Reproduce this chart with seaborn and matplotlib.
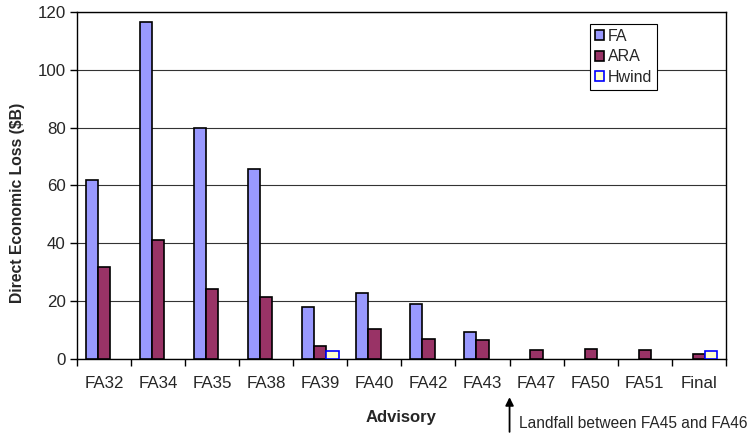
import pandas as pd
import numpy as np
import matplotlib
matplotlib.use('Agg')
import matplotlib.pyplot as plt
import seaborn as sns

# ── data ────────────────────────────────────────────────
advisories = ['FA32', 'FA34', 'FA35', 'FA38', 'FA39', 'FA40',
              'FA42', 'FA43', 'FA47', 'FA50', 'FA51', 'Final']
fa_loss    = [62.0, 116.5, 79.8, 65.7, 18.1, 22.7, 18.9, 9.3,
              np.nan, np.nan, np.nan, np.nan]
ara_loss   = [31.7, 41.1, 24.3, 21.3, 4.5, 10.3, 6.8, 6.4,
              3.1, 3.5, 3.1, 1.7]
hwind_loss = [np.nan, np.nan, np.nan, np.nan, 2.7, np.nan, np.nan, np.nan,
              np.nan, np.nan, np.nan, 2.7]
series     = ['FA', 'ARA', 'Hwind']

df = pd.concat([
    pd.DataFrame({'Advisory': advisories, 'series': name, 'loss': vals})
    for name, vals in zip(series, [fa_loss, ara_loss, hwind_loss])
]).dropna()

FA_COL  = '#9999ff'
ARA_COL = '#993366'
HW_COL  = '#ffffcc'

sns.set_theme(style='white')
plt.rcParams['font.family'] = ['Liberation Sans', 'DejaVu Sans']

fig = plt.figure(figsize=(7.51, 4.36), dpi=100)
ax = fig.add_axes([0.1025, 0.1766, 0.864, 0.7959])

sns.barplot(data=df, x='Advisory', y='loss', hue='series',
            order=advisories, hue_order=series,
            palette=[FA_COL, ARA_COL, HW_COL],
            width=0.68, gap=0, errorbar=None, saturation=1,
            ax=ax, zorder=3)

for cont, ec in zip(ax.containers, ['black', 'black', '#0000ff']):
    for bar in cont:
        bar.set_edgecolor(ec)
        bar.set_linewidth(1.2)

# axes cosmetics
ax.set_ylim(0, 120)
ax.set_xlim(-0.5, 11.5)
ax.set_yticks(np.arange(0, 121, 20))
ax.yaxis.grid(True, color='#333333', linewidth=0.8, zorder=0)
ax.set_axisbelow(True)
for sp in ax.spines.values():
    sp.set_visible(True)
    sp.set_color('black')
    sp.set_linewidth(1.0)

ax.set_xticks(range(len(advisories)))
ax.set_xticklabels(advisories, fontsize=12.2)
ax.set_xticks(np.arange(-0.5, 12, 1), minor=True)
ax.tick_params(axis='x', which='major', length=0, pad=12)
ax.tick_params(axis='x', which='minor', bottom=True, length=5,
               width=1, color='black', direction='out')
ax.tick_params(axis='y', left=True, length=5, width=1, color='black',
               direction='out', labelsize=12.2, pad=3)

ax.set_xlabel('Advisory', fontsize=12, fontweight='bold', labelpad=14)
ax.set_ylabel('Direct Economic Loss ($B)', fontsize=11.3, fontweight='bold')
ax.yaxis.set_label_coords(-0.08, 0.45)

# legend
ax.get_legend().remove()
leg = ax.legend(handles=[c.patches[0] for c in ax.containers],
                labels=series, loc='upper left',
                bbox_to_anchor=(0.7856, 0.945), bbox_transform=fig.transFigure,
                fontsize=11.5, frameon=True, fancybox=False, framealpha=1,
                edgecolor='black', handlelength=0.6, handleheight=0.6,
                handletextpad=0.2, borderpad=0.3, labelspacing=0.35,
                borderaxespad=0)
leg.get_frame().set_linewidth(0.8)

# landfall annotation
xt = ax.get_xaxis_transform()
ax.annotate('', xy=(7.5, -0.11), xytext=(7.5, -0.21),
            xycoords=xt, textcoords=xt, annotation_clip=False,
            arrowprops=dict(arrowstyle='-|>', color='black', lw=1.3,
                            mutation_scale=12, shrinkA=0, shrinkB=0))
ax.text(7.68, -0.185, 'Landfall between FA45 and FA46', transform=xt,
        fontsize=11.2, va='center', ha='left', clip_on=False)

plt.savefig('out.png', dpi=100)
plt.close()
